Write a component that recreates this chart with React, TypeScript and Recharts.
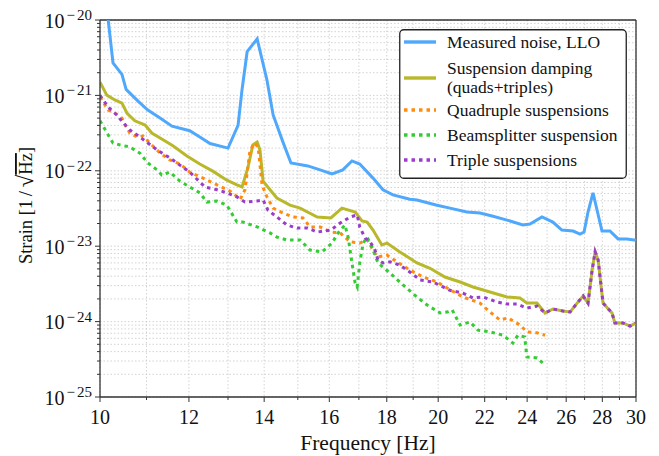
import React from 'react';
import { LineChart, Line, XAxis, YAxis, CartesianGrid, ReferenceLine } from 'recharts';

// ---- data (frequency in Hz, strain in 1/sqrt(Hz)) ----
const measuredFreq = [10.0, 10.17, 10.27, 10.46, 10.55, 10.81, 11.03, 11.31, 11.59, 12.02, 12.27, 12.53, 13.0, 13.27, 13.38, 13.52, 13.8, 14.08, 14.26, 14.55, 14.79, 15.31, 15.7, 16.09, 16.45, 16.76, 17.03, 17.5, 17.86, 18.23, 18.87, 19.15, 19.95, 20.49, 21.21, 21.79, 22.38, 23.03, 23.79, 24.14, 24.74, 25.3, 25.77, 26.37, 26.75, 26.97, 27.19, 27.47, 27.7, 27.98, 28.44, 28.92, 29.45, 30.0];
const measuredNoise = [1.6e-20, 1.0e-20, 2.7e-21, 1.9e-21, 1.2e-21, 8.4e-22, 6.4e-22, 5.0e-22, 3.9e-22, 3.4e-22, 2.8e-22, 2.3e-22, 2.0e-22, 4.0e-22, 1.2e-21, 3.8e-21, 5.6e-21, 1.6e-21, 5.5e-22, 2.4e-22, 1.27e-22, 1.16e-22, 1.03e-22, 9.1e-23, 1.03e-22, 1.35e-22, 1.23e-22, 8.0e-23, 5.6e-23, 4.8e-23, 4.2e-23, 4.1e-23, 3.5e-23, 3.2e-23, 2.84e-23, 2.75e-23, 2.5e-23, 2.22e-23, 1.91e-23, 1.97e-23, 2.44e-23, 2.09e-23, 1.64e-23, 1.59e-23, 1.45e-23, 1.54e-23, 2.84e-23, 5.1e-23, 3.0e-23, 1.59e-23, 1.59e-23, 1.25e-23, 1.25e-23, 1.2e-23];

const dampingFreq = [10.0, 10.14, 10.31, 10.46, 10.57, 10.74, 10.97, 11.12, 11.35, 11.62, 11.95, 12.27, 12.6, 12.97, 13.24, 13.38, 13.54, 13.68, 13.8, 13.88, 13.97, 14.17, 14.37, 14.76, 15.07, 15.61, 16.05, 16.42, 16.87, 17.11, 17.29, 17.5, 17.82, 18.01, 18.49, 19.15, 19.67, 20.28, 20.92, 21.48, 22.24, 23.03, 23.65, 23.99, 24.49, 24.9, 25.3, 25.83, 26.21, 26.59, 26.92, 27.19, 27.42, 27.59, 27.76, 28.04, 28.56, 28.73, 29.21, 29.64, 30.0];
const dampingTotal = [1.5e-21, 1.01e-21, 8.7e-22, 7.9e-22, 5.8e-22, 4.6e-22, 4.05e-22, 3.17e-22, 2.64e-22, 2.13e-22, 1.57e-22, 1.23e-22, 9.9e-23, 7.5e-23, 6.5e-23, 6.1e-23, 1.09e-22, 2.2e-22, 2.41e-22, 1.89e-22, 7.3e-23, 5.6e-23, 4.35e-23, 3.5e-23, 3.2e-23, 2.44e-23, 2.37e-23, 3.2e-23, 2.84e-23, 2.16e-23, 2.09e-23, 1.64e-23, 1.04e-23, 1.1e-23, 8.4e-24, 6.0e-24, 5.1e-24, 3.9e-24, 3.35e-24, 2.88e-24, 2.47e-24, 2.12e-24, 2.06e-24, 1.76e-24, 1.76e-24, 1.3e-24, 1.47e-24, 1.38e-24, 1.34e-24, 1.76e-24, 2.19e-24, 1.76e-24, 4.83e-24, 8.4e-24, 6.56e-24, 1.76e-24, 1.3e-24, 9.6e-25, 9.6e-25, 8.7e-25, 9.6e-25];

const quadFreq = [10.0, 10.17, 10.31, 10.46, 10.53, 10.63, 10.79, 10.92, 11.12, 11.31, 11.54, 11.78, 12.02, 12.35, 12.71, 13.05, 13.33, 13.46, 13.6, 13.74, 13.83, 13.94, 14.08, 14.26, 14.55, 14.85, 15.16, 15.38, 15.7, 16.05, 16.36, 16.7, 17.03, 17.29, 17.65, 18.01, 18.38, 18.87, 19.4, 19.95, 20.37, 21.04, 21.79, 22.24, 22.7, 23.08, 23.65, 23.99, 24.49, 24.9];
const quadSusp = [9.5e-22, 6.4e-22, 5.8e-22, 5.0e-22, 4.05e-22, 3.17e-22, 2.81e-22, 2.9e-22, 2.2e-22, 1.72e-22, 1.39e-22, 1.23e-22, 9.6e-23, 8.0e-23, 6.5e-23, 5.4e-23, 4.2e-23, 5.6e-23, 1.89e-22, 2.34e-22, 2.0e-22, 6.5e-23, 4.5e-23, 3.2e-23, 2.75e-23, 2.44e-23, 2.37e-23, 1.8e-23, 1.8e-23, 1.54e-23, 1.5e-23, 1.14e-23, 1.1e-23, 1.21e-23, 7.2e-24, 7.6e-24, 6.2e-24, 4.83e-24, 3.9e-24, 3.35e-24, 2.79e-24, 2.12e-24, 1.76e-24, 1.34e-24, 1.05e-24, 1.12e-24, 9.0e-25, 7.3e-25, 7.1e-25, 6.6e-25];

const bsFreq = [10.0, 10.17, 10.27, 10.42, 10.63, 10.85, 11.03, 11.24, 11.35, 11.54, 11.78, 12.02, 12.27, 12.45, 12.71, 12.97, 13.24, 13.4, 13.8, 14.17, 14.37, 14.67, 15.07, 15.38, 15.76, 16.09, 16.29, 16.52, 16.63, 16.76, 16.87, 16.94, 17.03, 17.15, 17.29, 17.46, 17.68, 18.12, 18.61, 19.15, 19.55, 20.08, 20.37, 20.58, 20.92, 21.35, 21.7, 22.24, 22.84, 23.31, 23.55, 23.88, 23.99, 24.49, 24.9];
const bsSusp = [4.6e-22, 2.98e-22, 2.34e-22, 2.2e-22, 2.07e-22, 1.72e-22, 1.27e-22, 1.03e-22, 8.8e-23, 9.6e-23, 7.3e-23, 6.1e-23, 5.1e-23, 3.85e-23, 3.97e-23, 3.5e-23, 2.09e-23, 2.09e-23, 1.8e-23, 1.5e-23, 1.32e-23, 1.21e-23, 1.21e-23, 8.9e-24, 8.4e-24, 1.1e-23, 1.5e-23, 1.91e-23, 1.32e-23, 6.0e-24, 3.25e-24, 2.88e-24, 6.0e-24, 1.1e-23, 1.32e-23, 9.75e-24, 6.0e-24, 4.4e-24, 3.06e-24, 2.12e-24, 1.66e-24, 1.3e-24, 1.34e-24, 1.43e-24, 9.0e-25, 9.9e-25, 7.7e-25, 7.3e-25, 6.6e-25, 5.2e-25, 6.6e-25, 6.25e-25, 3.4e-25, 3.3e-25, 2.65e-25];

const tripleFreq = [10.0, 10.17, 10.35, 10.48, 10.63, 10.85, 11.03, 11.24, 11.54, 11.78, 12.02, 12.4, 12.71, 12.97, 13.24, 13.46, 13.8, 13.97, 14.11, 14.37, 14.67, 14.98, 15.31, 15.61, 16.05, 16.36, 16.7, 16.94, 17.03, 17.22, 17.4, 17.57, 17.68, 17.86, 18.12, 18.49, 18.87, 19.27, 19.79, 20.2, 20.49, 21.04, 21.48, 21.93, 22.56, 23.03, 23.5, 23.99, 24.49, 24.9, 25.3, 25.83, 26.21, 26.59, 26.92, 27.19, 27.42, 27.59, 27.76, 28.04, 28.56, 28.73, 29.21, 29.64, 30.0];
const tripleSusp = [1.0e-21, 7.0e-22, 5.5e-22, 4.4e-22, 3.47e-22, 2.81e-22, 2.34e-22, 1.89e-22, 1.48e-22, 1.19e-22, 9.6e-23, 6.1e-23, 5.6e-23, 5.1e-23, 4.5e-23, 3.85e-23, 3.97e-23, 4.1e-23, 3.0e-23, 2.44e-23, 1.91e-23, 1.74e-23, 1.74e-23, 1.54e-23, 1.64e-23, 2.03e-23, 2.44e-23, 2.6e-23, 1.8e-23, 1.28e-23, 1.14e-23, 8.9e-24, 6.56e-24, 6.0e-24, 6.2e-24, 5.6e-24, 4.55e-24, 3.56e-24, 3.35e-24, 2.88e-24, 2.6e-24, 2.39e-24, 2.06e-24, 2.12e-24, 1.82e-24, 1.71e-24, 1.71e-24, 1.51e-24, 1.61e-24, 1.3e-24, 1.47e-24, 1.38e-24, 1.34e-24, 1.76e-24, 2.19e-24, 1.76e-24, 4.83e-24, 8.4e-24, 6.56e-24, 1.76e-24, 1.3e-24, 9.6e-25, 9.6e-25, 8.7e-25, 9.6e-25];

const xTicks = [10, 11, 12, 13, 14, 15, 16, 17, 18, 19, 20, 21, 22, 23, 24, 25, 26, 27, 28, 29, 30];
const xLabelTicks = [10, 12, 14, 16, 18, 20, 22, 24, 26, 28, 30];
const yDecades = [-25, -24, -23, -22, -21];
const yMinorMultipliers = [1, 2, 3, 4, 5, 6, 7, 8, 9];
const yTicks = [...yDecades.flatMap((d) => yMinorMultipliers.map((m) => m * Math.pow(10, d))), 1e-20];

const seriesNames = [
  'Measured noise, LLO',
  'Suspension damping',
  'Quadruple suspensions',
  'Beamsplitter suspension',
  'Triple suspensions',
];

const zip = (fs: number[], vs: number[]) => fs.map((f, i) => ({ f, v: vs[i] }));

const FONT = '"Liberation Serif", "Times New Roman", serif';
const AX = '#333';
const TXT = '#111';
const DOT = '3.5 4';
const COLORS = {
  blue: '#4fa8fb',
  olive: '#b8b82a',
  orange: '#ff8c0f',
  green: '#33cc33',
  purple: '#9a3ccc',
};

const XTick = (props: any) => {
  const { x, y, payload } = props;
  const v = payload.value;
  const major = xLabelTicks.includes(v);
  return (
    <g>
      <line x1={x} x2={x} y1={y} y2={y + (major ? 5 : 3)} stroke={AX} strokeWidth={1} />
      {major && (
        <text x={x} y={y + 27} textAnchor="middle" fontSize={20} style={{ fontFamily: FONT }} fill={TXT}>
          {v}
        </text>
      )}
    </g>
  );
};

const YTick = (props: any) => {
  const { x, y, payload } = props;
  const v = payload.value;
  const lg = Math.log10(v);
  const major = Math.abs(lg - Math.round(lg)) < 1e-6;
  return (
    <g>
      <line x1={x - (major ? 5 : 3)} x2={x} y1={y} y2={y} stroke={AX} strokeWidth={1} />
      {major && (
        <text x={x - 8} y={y + 7.5} textAnchor="end" fontSize={20} style={{ fontFamily: FONT }} fill={TXT}>
          <tspan>10</tspan>
          <tspan dx={2} dy={-7.5} fontSize={15}>{'\u2212'}</tspan>
          <tspan dx={2} fontSize={15}>{Math.abs(Math.round(lg))}</tspan>
        </text>
      )}
    </g>
  );
};

const YLabel = (props: any) => {
  const vb = props.viewBox;
  const cy = vb.y + vb.height / 2 - 3;
  const cx = vb.x - 8;
  return (
    <text transform={`rotate(-90, ${cx}, ${cy})`} x={cx} y={cy} textAnchor="middle" fontSize={18.5} style={{ fontFamily: FONT }} fill={TXT}>
      <tspan>{'Strain [1\u2009/\u2009'}</tspan>
      <tspan fontSize={23} dy={1}>√</tspan>
      <tspan dy={-1} textDecoration="overline">Hz</tspan>
      <tspan>]</tspan>
    </text>
  );
};

const XLabel = (props: any) => {
  const vb = props.viewBox;
  return (
    <text x={vb.x + vb.width / 2} y={vb.y + 53} textAnchor="middle" fontSize={21.5} style={{ fontFamily: FONT }} fill={TXT}>
      Frequency [Hz]
    </text>
  );
};

const LegendBox = () => {
  const rows = [
    { c: COLORS.blue, dash: undefined, y: 13, lines: [seriesNames[0]] },
    { c: COLORS.olive, dash: undefined, y: 49, lines: [seriesNames[1], '(quads+triples)'] },
    { c: COLORS.orange, dash: DOT, y: 81, lines: [seriesNames[2]] },
    { c: COLORS.green, dash: DOT, y: 106, lines: [seriesNames[3]] },
    { c: COLORS.purple, dash: DOT, y: 131, lines: [seriesNames[4]] },
  ];
  return (
    <svg width={228} height={150} style={{ display: 'block', fontFamily: FONT }}>
      <rect x={0.75} y={0.75} width={226.5} height={148.5} rx={4} ry={4} fill="#fff" stroke="#222" strokeWidth={1.3} />
      {rows.map((r, i) => (
        <g key={i}>
          <line x1={5} x2={37} y1={r.y} y2={r.y} stroke={r.c} strokeWidth={3.4} strokeDasharray={r.dash} />
          {r.lines.length === 1 ? (
            <text x={48} y={r.y + 6} fontSize={17.5} style={{ fontFamily: FONT }} fill={TXT}>{r.lines[0]}</text>
          ) : (
            <g>
              <text x={48} y={r.y - 4.5} fontSize={17.5} style={{ fontFamily: FONT }} fill={TXT}>{r.lines[0]}</text>
              <text x={48} y={r.y + 14.5} fontSize={17.5} style={{ fontFamily: FONT }} fill={TXT}>{r.lines[1]}</text>
            </g>
          )}
        </g>
      ))}
    </svg>
  );
};

export default function App() {
  return (
    <div style={{ position: 'absolute', left: 0, top: 0, width: 659, height: 456, background: '#fff' }}>
      <LineChart width={659} height={456} margin={{ top: 20, right: 23, bottom: 19, left: 40 }}>
        <CartesianGrid stroke="#c8c8c8" strokeDasharray="1.5 2" strokeWidth={0.8} />
        <XAxis
          dataKey="f"
          type="number"
          scale="log"
          domain={[10, 30]}
          allowDataOverflow
          ticks={xTicks}
          interval={0}
          tick={<XTick />}
          tickSize={0}
          tickMargin={0}
          tickLine={false}
          height={40}
          axisLine={{ stroke: AX, strokeWidth: 1.3 }}
          label={<XLabel />}
        />
        <YAxis
          dataKey="v"
          type="number"
          scale="log"
          domain={[1e-25, 1e-20]}
          allowDataOverflow
          ticks={yTicks}
          interval={0}
          tick={<YTick />}
          tickSize={0}
          tickMargin={0}
          tickLine={false}
          width={60}
          axisLine={{ stroke: AX, strokeWidth: 1.3 }}
          label={<YLabel />}
        />
        <ReferenceLine y={1e-20} stroke={AX} strokeWidth={1.3} />
        <ReferenceLine x={30} stroke={AX} strokeWidth={1.3} />
        <Line data={zip(measuredFreq, measuredNoise)} dataKey="v" name={seriesNames[0]} stroke={COLORS.blue} strokeWidth={3} dot={false} isAnimationActive={false} />
        <Line data={zip(dampingFreq, dampingTotal)} dataKey="v" name={seriesNames[1]} stroke={COLORS.olive} strokeWidth={3} dot={false} isAnimationActive={false} />
        <Line data={zip(quadFreq, quadSusp)} dataKey="v" name={seriesNames[2]} stroke={COLORS.orange} strokeWidth={3} strokeDasharray={DOT} dot={false} isAnimationActive={false} />
        <Line data={zip(bsFreq, bsSusp)} dataKey="v" name={seriesNames[3]} stroke={COLORS.green} strokeWidth={3} strokeDasharray={DOT} dot={false} isAnimationActive={false} />
        <Line data={zip(tripleFreq, tripleSusp)} dataKey="v" name={seriesNames[4]} stroke={COLORS.purple} strokeWidth={3} strokeDasharray={DOT} dot={false} isAnimationActive={false} />
      </LineChart>
      <div style={{ position: 'absolute', left: 399, top: 29 }}>
        <LegendBox />
      </div>
    </div>
  );
}
